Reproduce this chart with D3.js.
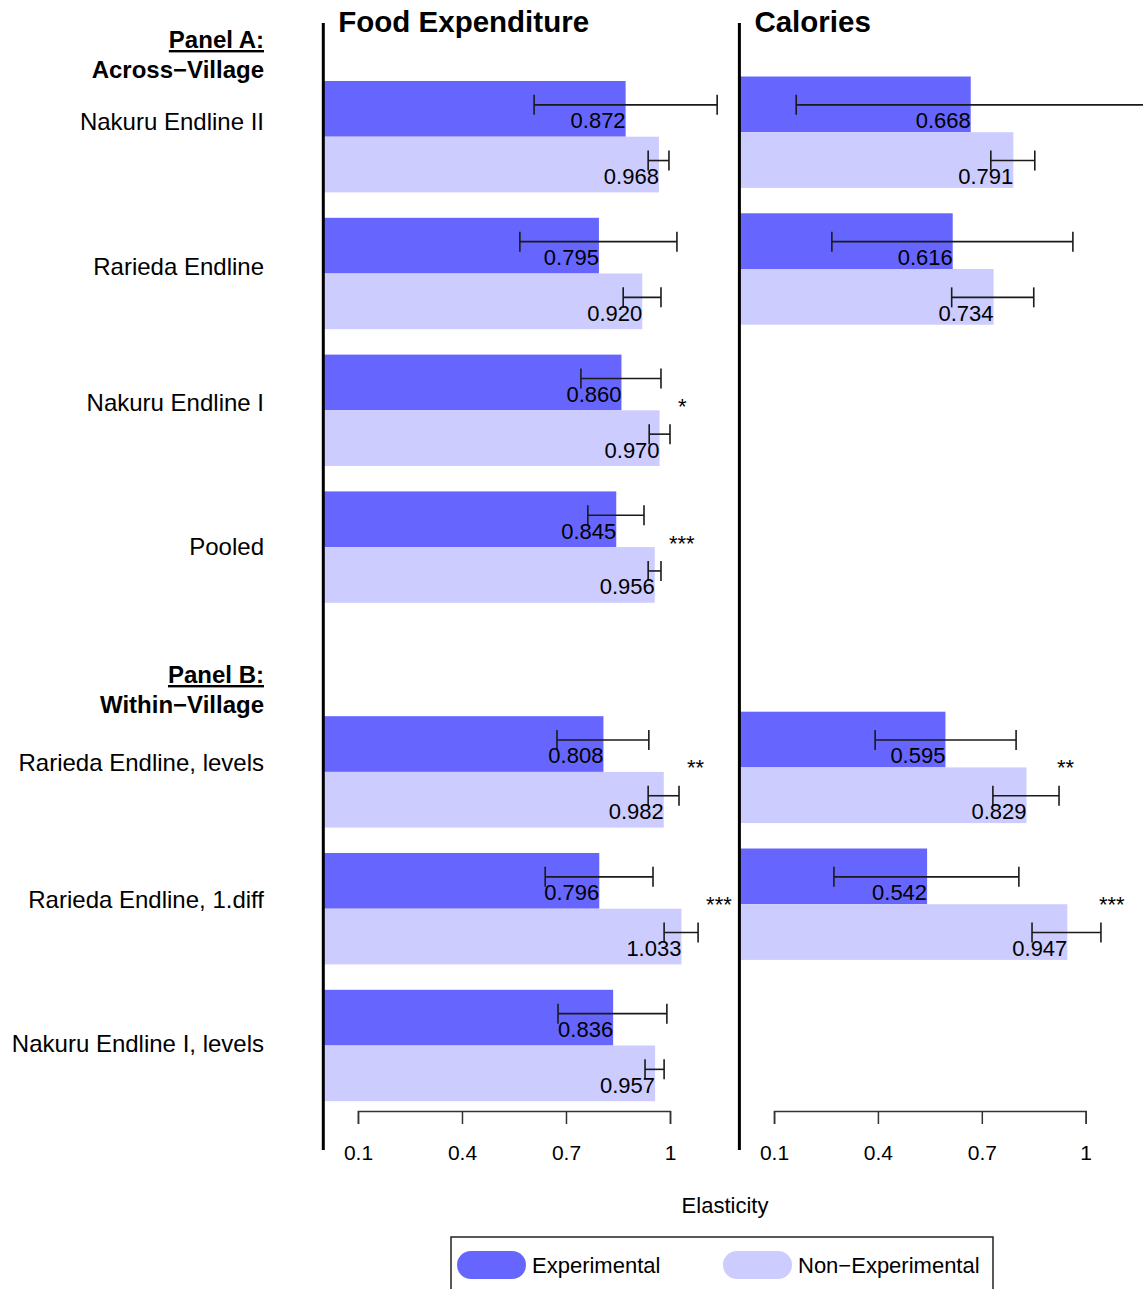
<!DOCTYPE html>
<html>
<head>
<meta charset="utf-8">
<script src="https://cdn.jsdelivr.net/npm/d3@7"></script>
<style>
  html, body { margin: 0; padding: 0; background: #fff; }
  svg { display: block; font-family: "Liberation Sans", Arial, Helvetica, sans-serif; }
</style>
</head>
<body>
<svg id="chart" width="1143" height="1289"></svg>
<script>
// ---- data ----
const rows = ["Nakuru Endline II", "Rarieda Endline", "Nakuru Endline I", "Pooled",
              "Rarieda Endline, levels", "Rarieda Endline, 1.diff", "Nakuru Endline I, levels"];
const rowPanel = ["A", "A", "A", "A", "B", "B", "B"];
const panelHeads = [["Panel A:", "Across\u2212Village"], ["Panel B:", "Within\u2212Village"]];
const seriesNames = ["Experimental", "Non\u2212Experimental"];
const ticks = [0.1, 0.4, 0.7, 1];

// Food expenditure elasticities with confidence bounds
const foodExp   = [0.872, 0.795, 0.860, 0.845, 0.808, 0.796, 0.836];
const foodExpLo = [0.608, 0.567, 0.743, 0.763, 0.674, 0.640, 0.677];
const foodExpHi = [1.136, 1.020, 0.974, 0.925, 0.939, 0.951, 0.991];
const foodNon   = [0.968, 0.920, 0.970, 0.956, 0.982, 1.033, 0.957];
const foodNonLo = [0.937, 0.865, 0.940, 0.937, 0.937, 0.983, 0.928];
const foodNonHi = [0.997, 0.974, 1.000, 0.974, 1.026, 1.081, 0.983];
const foodSig   = ["", "", "*", "***", "**", "***", ""];

// Calorie elasticities (not estimated for every sample)
const calExp   = [0.668, 0.616, null, null, 0.595, 0.542, null];
const calExpLo = [0.164, 0.267, null, null, 0.392, 0.273, null];
const calExpHi = [1.172, 0.963, null, null, 0.799, 0.807, null];
const calNon   = [0.791, 0.734, null, null, 0.829, 0.947, null];
const calNonLo = [0.726, 0.613, null, null, 0.732, 0.845, null];
const calNonHi = [0.853, 0.850, null, null, 0.923, 1.044, null];
const calSig   = ["", "", "", "", "**", "***", ""];

// ---- layout ----
const colors = ["#6666ff", "#ccccff"];
const FONT = 22;
const svg = d3.select("#chart");

const step = 136.8, panelBGap = 88, barH = 55.7, rowTop = 81;
const labelNudge = [-15, -7, -7, 0, -9, -9, -2];

function groupTop(top, i) {
  const y = d3.scaleLinear().domain([0, 1]).range([top, top + step]);
  return y(i) + (rowPanel[i] === "B" ? panelBGap : 0);
}

const panels = [
  { title: "Food Expenditure", x0: 323.3, x1: 670, barTop: 81, starPad: 8,
    v: [foodExp, foodNon], lo: [foodExpLo, foodNonLo], hi: [foodExpHi, foodNonHi], sig: foodSig },
  { title: "Calories", x0: 739.4, x1: 1085.7, barTop: 76.5, starPad: -2,
    v: [calExp, calNon], lo: [calExpLo, calNonLo], hi: [calExpHi, calNonHi], sig: calSig }
];

const inner = d3.scaleBand().domain([0, 1]).range([0, 2 * barH]).padding(0);

panels.forEach(p => {
  const x = d3.scaleLinear().domain([0, 1]).range([p.x0, p.x1]);
  const g = svg.append("g");

  // bars
  rows.forEach((r, i) => {
    const gt = groupTop(p.barTop, i);
    [0, 1].forEach(s => {
      const val = p.v[s][i];
      if (val == null) return;
      g.append("rect")
        .attr("x", x(0)).attr("y", gt + inner(s))
        .attr("width", x(val) - x(0)).attr("height", inner.bandwidth())
        .attr("fill", colors[s]);
    });
  });

  // error bars and value labels share the row grid of both panels
  rows.forEach((r, i) => {
    const gt = groupTop(rowTop, i);
    [0, 1].forEach(s => {
      const val = p.v[s][i];
      if (val == null) return;
      const y0 = gt + inner(s);
      const yc = y0 + inner.bandwidth() / 2 - 4;
      const lo = x(p.lo[s][i]), hi = x(p.hi[s][i]);
      const eb = g.append("g").attr("stroke", "#1a1a1a").attr("stroke-width", 1.6);
      eb.append("line").attr("x1", lo).attr("x2", hi).attr("y1", yc).attr("y2", yc);
      eb.append("line").attr("x1", lo).attr("x2", lo).attr("y1", yc - 10).attr("y2", yc + 10);
      eb.append("line").attr("x1", hi).attr("x2", hi).attr("y1", yc - 10).attr("y2", yc + 10);
      g.append("text")
        .attr("x", x(val)).attr("y", y0 + inner.bandwidth() - 8.5)
        .attr("text-anchor", "end").attr("font-size", FONT).attr("fill", "#000")
        .text(d3.format(".3f")(val));
    });
    if (p.sig[i]) {
      const maxHi = Math.max(p.hi[0][i], p.hi[1][i]);
      g.append("text")
        .attr("x", x(maxHi) + p.starPad).attr("y", gt + barH + 3.5)
        .attr("font-size", 22).attr("fill", "#000")
        .text(p.sig[i]);
    }
  });

  // vertical baseline
  g.append("line").attr("x1", x(0)).attr("x2", x(0)).attr("y1", 23).attr("y2", 1150)
    .attr("stroke", "#000").attr("stroke-width", 3);

  // title
  g.append("text").attr("x", x(0) + 15).attr("y", 32)
    .attr("font-size", 29.5).attr("font-weight", "bold").text(p.title);

  // x axis across the tick range
  const xa = d3.scaleLinear().domain([0.1, 1]).range([x(0.1), x(1)]);
  const ax = svg.append("g").attr("transform", "translate(0,1111)")
    .call(d3.axisBottom(xa).tickValues(ticks).tickSize(13).tickSizeOuter(13)
      .tickFormat(d => d === 1 ? "1" : d3.format(".1f")(d)));
  ax.select(".domain").attr("stroke", "#333").attr("stroke-width", 1.5);
  ax.selectAll(".tick line").attr("stroke", "#333").attr("stroke-width", 1.5);
  ax.selectAll(".tick text").attr("y", 49).attr("dy", 0)
    .attr("font-size", 21).attr("fill", "#000")
    .attr("font-family", "Liberation Sans, Arial, sans-serif");
});

// row labels
rows.forEach((r, i) => {
  const mid = groupTop(rowTop, i) + barH;
  svg.append("text").attr("x", 264).attr("y", mid + labelNudge[i] + 8)
    .attr("text-anchor", "end").attr("font-size", 24).text(r);
});

// panel headings
const headY = [48, 683];
panelHeads.forEach((h, k) => {
  svg.append("text").attr("x", 264).attr("y", headY[k])
    .attr("text-anchor", "end").attr("font-size", 24).attr("font-weight", "bold")
    .attr("text-decoration", "underline").text(h[0]);
  svg.append("text").attr("x", 264).attr("y", headY[k] + 30)
    .attr("text-anchor", "end").attr("font-size", 24).attr("font-weight", "bold").text(h[1]);
});

// axis title
svg.append("text").attr("x", 725).attr("y", 1213).attr("text-anchor", "middle")
  .attr("font-size", FONT).text("Elasticity");

// legend
svg.append("rect").attr("x", 451).attr("y", 1237).attr("width", 542).attr("height", 80)
  .attr("fill", "none").attr("stroke", "#222").attr("stroke-width", 1.5);
const legX = [457, 723];
seriesNames.forEach((n, s) => {
  svg.append("rect").attr("x", legX[s]).attr("y", 1251).attr("width", 69).attr("height", 28)
    .attr("rx", 14).attr("fill", colors[s]);
  svg.append("text").attr("x", legX[s] + 75).attr("y", 1273).attr("font-size", FONT).text(n);
});
</script>
</body>
</html>
